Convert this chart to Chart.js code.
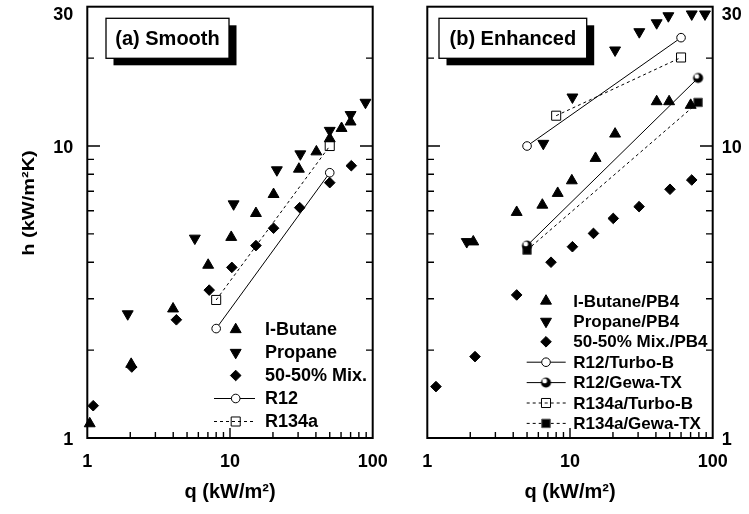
<!DOCTYPE html>
<html><head><meta charset="utf-8">
<script src="https://cdn.jsdelivr.net/npm/chart.js@4/dist/chart.umd.min.js"></script>
<style>
html,body{margin:0;padding:0;background:#fff;}
#wrap{position:relative;width:749px;height:514px;overflow:hidden;background:#fff;}
canvas{position:absolute;top:0;}
</style></head><body>
<div id="wrap">
<canvas id="c1" width="400" height="514" style="left:0px;width:400px;height:514px"></canvas>
<canvas id="c2" width="349" height="514" style="left:400px;width:349px;height:514px"></canvas>
</div>
<script>
// ---------- Panel (a) Smooth ----------
const smoothButaneQ  = [1.04, 2.03, 3.99, 7.03, 10.2, 15.2, 20.2, 30.4, 40.3, 50, 60.5, 70];
const smoothButaneH  = [1.12, 1.79, 2.77, 3.91, 4.87, 5.88, 6.83, 8.34, 9.56, 10.6, 11.5, 12.1];
const smoothPropaneQ = [1.92, 5.67, 10.6, 21.3, 31.1, 50, 70, 89];
const smoothPropaneH = [2.66, 4.83, 6.33, 8.28, 9.39, 11.3, 12.8, 14.1];
const smoothMixQ     = [1.10, 2.05, 4.21, 7.15, 10.3, 15.2, 20.2, 30.8, 50, 70.8];
const smoothMixH     = [1.29, 1.75, 2.54, 3.21, 3.84, 4.56, 5.23, 6.15, 7.49, 8.56];
const smoothR12Q     = [8, 50];
const smoothR12H     = [2.37, 8.1];
const smoothR134aQ   = [8, 50];
const smoothR134aH   = [2.97, 10.0];

// ---------- Panel (b) Enhanced ----------
const enhButaneQ  = [2.1, 4.23, 6.4, 8.2, 10.3, 15.1, 20.7, 40.5, 49.5, 70.1];
const enhButaneH  = [4.7, 5.93, 6.28, 6.89, 7.61, 9.08, 11.0, 14.2, 14.2, 13.8];
const enhPropaneQ = [1.89, 6.5, 10.4, 20.7, 30.6, 40.5, 48.9, 71.3, 88.3];
const enhPropaneH = [4.7, 10.2, 14.7, 21.3, 24.6, 26.4, 27.9, 28.3, 28.3];
const enhMixQ     = [1.15, 2.16, 4.23, 7.36, 10.4, 14.6, 20.1, 30.5, 50.2, 71.3];
const enhMixH     = [1.50, 1.90, 3.09, 4.0, 4.52, 5.02, 5.65, 6.2, 7.11, 7.65];
const enhR12TurboQ   = [5, 60];
const enhR12TurboH   = [10.0, 23.5];
const enhR12GewaQ    = [5, 79];
const enhR12GewaH    = [4.56, 17.1];
const enhR134aTurboQ = [8, 60];
const enhR134aTurboH = [12.7, 20.1];
const enhR134aGewaQ  = [5, 79];
const enhR134aGewaH  = [4.4, 14.1];

// ---------- Axes ----------
const xTickLabels = [1, 10, 100];
const yTickLabels = [1, 10, 30];
const xMinorTicks = [2,3,4,5,6,7,8,9,20,30,40,50,60,70,80,90];
const yMinorTicks = [2,3,4,5,6,7,8,9,20];
const xMajorInner = [10];
const yMajorInner = [10];
const xTitle = 'q (kW/m²)';
const yTitle = 'h (kW/m²K)';

const FONT = '"Liberation Sans", Arial, Helvetica, sans-serif';
Chart.defaults.font.family = FONT;
Chart.defaults.color = '#000';

function pts(q, h) { return q.map((v, i) => ({x: v, y: h[i]})); }

function makeSphere(r) {
  const c = document.createElement('canvas');
  const s = Math.ceil(2 * r + 3);
  c.width = s; c.height = s;
  const g = c.getContext('2d');
  const cx = s / 2;
  g.fillStyle = '#000';
  g.beginPath(); g.arc(cx, cx, r, 0, Math.PI * 2); g.fill();
  g.fillStyle = '#fff';
  g.beginPath(); g.arc(cx - 1.3, cx - 1.6, r * 0.48, 0, Math.PI * 2); g.fill();
  return c;
}
const sphere = makeSphere(5);

function filled(label, q, h, style, rot, r) {
  return {label, data: pts(q, h), showLine: false, pointStyle: style, pointRotation: rot,
    pointRadius: r, pointHoverRadius: r, pointBackgroundColor: '#000', pointBorderColor: '#000',
    pointBorderWidth: 1, clip: false};
}
function lined(label, q, h, style, r, bg, border, dash) {
  return {label, data: pts(q, h), showLine: true, borderColor: '#000', borderWidth: 1,
    borderDash: dash, pointStyle: style, pointRotation: 0, pointRadius: r, pointHoverRadius: r,
    pointBackgroundColor: bg, pointBorderColor: border, pointBorderWidth: 1, clip: false};
}

const panelPlugin = {
  id: 'panel',
  afterDraw(chart, args, o) {
    const {ctx, chartArea: a} = chart;
    const x = chart.scales.x, y = chart.scales.y;
    ctx.save();
    ctx.strokeStyle = '#000';
    ctx.lineWidth = 1.4;
    ctx.beginPath();
    xMinorTicks.forEach(v => { const p = x.getPixelForValue(v); ctx.moveTo(p, a.bottom); ctx.lineTo(p, a.bottom - 6); });
    xMajorInner.forEach(v => { const p = x.getPixelForValue(v); ctx.moveTo(p, a.bottom); ctx.lineTo(p, a.bottom - 10); });
    yMinorTicks.forEach(v => { const p = y.getPixelForValue(v);
      ctx.moveTo(a.left, p); ctx.lineTo(a.left + 6.7, p);
      ctx.moveTo(a.right, p); ctx.lineTo(a.right - 6.7, p); });
    yMajorInner.forEach(v => { const p = y.getPixelForValue(v);
      ctx.moveTo(a.left, p); ctx.lineTo(a.left + 12.7, p);
      ctx.moveTo(a.right, p); ctx.lineTo(a.right - 12.7, p); });
    ctx.stroke();
    ctx.lineWidth = 2;
    ctx.strokeRect(a.left, a.top, a.right - a.left, a.bottom - a.top);

    // y-axis title (left panel only)
    if (o.yTitle) {
      ctx.save();
      ctx.translate(o.yTitle.x, o.yTitle.y);
      ctx.rotate(-Math.PI / 2);
      ctx.scale(1, 0.8);
      ctx.fillStyle = '#000';
      ctx.font = 'bold 20px ' + FONT;
      ctx.textAlign = 'center';
      ctx.textBaseline = 'middle';
      ctx.fillText(yTitle, 0, 0);
      ctx.restore();
    }

    // label box with shadow
    const b = o.box;
    ctx.fillStyle = '#000';
    ctx.fillRect(b[0] + 7.5, b[1] + 7, b[2], b[3]);
    ctx.fillStyle = '#fff';
    ctx.fillRect(b[0], b[1], b[2], b[3]);
    ctx.lineWidth = 1.3;
    ctx.strokeRect(b[0], b[1], b[2], b[3]);
    ctx.fillStyle = '#000';
    ctx.font = 'bold 20px ' + FONT;
    ctx.textAlign = 'center';
    ctx.textBaseline = 'middle';
    ctx.fillText(o.label, b[0] + b[2] / 2, b[1] + b[3] / 2 + 1);

    // legend
    const L = o.legend;
    ctx.textAlign = 'left';
    chart.data.datasets.forEach((ds, i) => {
      const yy = L.y0 + i * L.dy;
      if (ds.showLine) {
        ctx.save();
        ctx.lineWidth = ds.borderWidth;
        ctx.strokeStyle = ds.borderColor;
        ctx.setLineDash(ds.borderDash || []);
        ctx.beginPath(); ctx.moveTo(L.x0, yy); ctx.lineTo(L.x1, yy); ctx.stroke();
        ctx.restore();
      }
      ctx.fillStyle = ds.pointBackgroundColor;
      ctx.strokeStyle = ds.pointBorderColor;
      ctx.lineWidth = ds.pointBorderWidth;
      ctx.setLineDash([]);
      Chart.helpers.drawPoint(ctx, {pointStyle: ds.pointStyle, rotation: ds.pointRotation || 0,
        radius: ds.pointRadius, borderWidth: ds.pointBorderWidth}, L.mx, yy);
      ctx.fillStyle = '#000';
      ctx.font = 'bold ' + L.size + 'px ' + FONT;
      ctx.textBaseline = 'middle';
      ctx.fillText(ds.label, L.tx, yy + 1);
    });
    ctx.restore();
  }
};

function makeOptions(side, panel) {
  const tickFont = {family: FONT, size: 18, weight: 'bold'};
  const yTickFont = {family: FONT, size: 18, weight: 'bold', lineHeight: 0.64};
  const titleFont = {family: FONT, size: 20, weight: 'bold'};
  return {
    responsive: false, animation: false, devicePixelRatio: 1,
    layout: {autoPadding: false,
      padding: side === 'left' ? {left: 0, right: 27.3, top: 6.7, bottom: 0}
                               : {left: 27.3, right: 0, top: 6.7, bottom: 0}},
    plugins: {legend: {display: false}, tooltip: {enabled: false}, panel},
    scales: {
      x: {type: 'logarithmic', position: 'bottom', min: 1, max: 100,
        grid: {display: false, drawTicks: false}, border: {display: false},
        afterBuildTicks: s => { s.ticks = xTickLabels.map(v => ({value: v})); },
        afterFit: s => { s.height = 76; s.paddingLeft = 0; s.paddingRight = 0; },
        ticks: {autoSkip: false, maxRotation: 0, padding: 13, font: tickFont, color: '#000',
          callback: v => String(v)},
        title: {display: true, text: xTitle, font: titleFont, color: '#000',
          padding: {top: 0, bottom: 10}}},
      y: {type: 'logarithmic', position: side, min: 1, max: 30,
        grid: {display: false, drawTicks: false}, border: {display: false},
        afterBuildTicks: s => { s.ticks = yTickLabels.map(v => ({value: v})); },
        afterFit: s => { s.width = side === 'left' ? 87.3 : 36.3; s.paddingTop = 0; s.paddingBottom = 0; },
        ticks: {autoSkip: false, padding: side === 'left' ? 14 : 9, font: yTickFont, color: '#000',
          labelOffset: 2.5,
          callback: v => (v === 30 ? ['', '30'] : String(v))},
        title: {display: false}}
    }
  };
}

new Chart(document.getElementById('c1'), {
  type: 'scatter',
  data: {datasets: [
    filled('I-Butane', smoothButaneQ, smoothButaneH, 'triangle', 0, 6.3),
    filled('Propane', smoothPropaneQ, smoothPropaneH, 'triangle', 180, 6.3),
    filled('50-50% Mix.', smoothMixQ, smoothMixH, 'rectRot', 0, 5.3),
    lined('R12', smoothR12Q, smoothR12H, 'circle', 4.3, '#fff', '#000', []),
    lined('R134a', smoothR134aQ, smoothR134aH, 'rect', 6.4, 'rgba(0,0,0,0)', '#000', [3, 3])
  ]},
  options: makeOptions('left', {label: '(a) Smooth', box: [106, 18.3, 123, 40],
    yTitle: {x: 30, y: 203},
    legend: {mx: 235.7, tx: 265, y0: 329.5, dy: 23, x0: 214, x1: 255, size: 18}}),
  plugins: [panelPlugin]
});

new Chart(document.getElementById('c2'), {
  type: 'scatter',
  data: {datasets: [
    filled('I-Butane/PB4', enhButaneQ, enhButaneH, 'triangle', 0, 6.3),
    filled('Propane/PB4', enhPropaneQ, enhPropaneH, 'triangle', 180, 6.3),
    filled('50-50% Mix./PB4', enhMixQ, enhMixH, 'rectRot', 0, 5.3),
    lined('R12/Turbo-B', enhR12TurboQ, enhR12TurboH, 'circle', 4.3, '#fff', '#000', []),
    lined('R12/Gewa-TX', enhR12GewaQ, enhR12GewaH, sphere, 5, '#000', '#000', []),
    lined('R134a/Turbo-B', enhR134aTurboQ, enhR134aTurboH, 'rect', 6.4, 'rgba(0,0,0,0)', '#000', [3, 3]),
    lined('R134a/Gewa-TX', enhR134aGewaQ, enhR134aGewaH, 'rect', 6, '#000', '#555', [3, 3])
  ]},
  options: makeOptions('right', {label: '(b) Enhanced', box: [39, 18.3, 147.7, 40],
    legend: {mx: 146, tx: 173.3, y0: 301, dy: 20.4, x0: 126.7, x1: 165.7, size: 17}}),
  plugins: [panelPlugin]
});
</script>
</body></html>
